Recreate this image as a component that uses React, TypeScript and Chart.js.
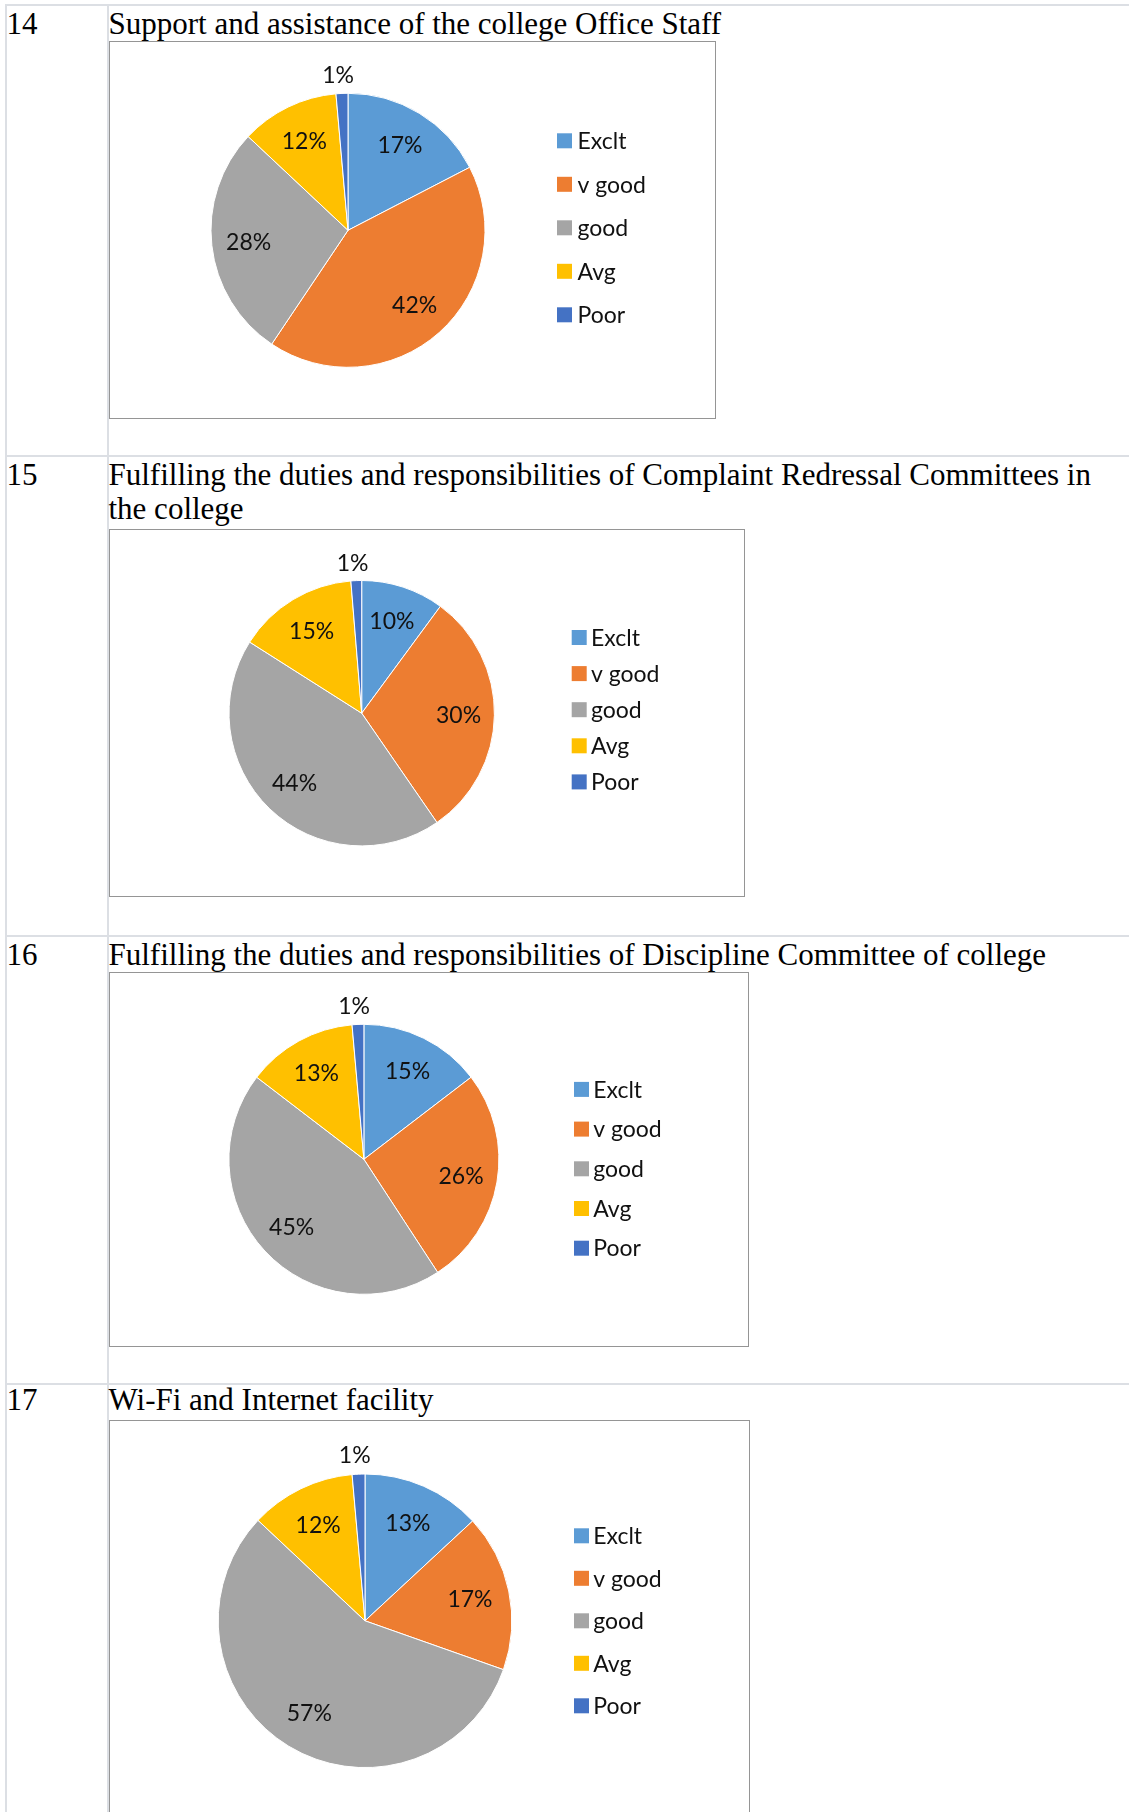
import React, { useEffect, useRef } from "react";
import { Chart, registerables } from "chart.js";

Chart.register(...registerables);

// ---------- data ----------
const CATEGORIES = ["Exclt", "v good", "good", "Avg", "Poor"];
const SLICE_COLORS = ["#5B9BD5", "#ED7D31", "#A5A5A5", "#FFC000", "#4472C4"];

const ROW_NUMBERS = ["14", "15", "16", "17"];
const TITLE_14 = ["Support and assistance of the college Office Staff"];
const TITLE_15 = [
  "Fulfilling the duties and responsibilities of Complaint Redressal Committees in",
  "the college",
];
const TITLE_16 = ["Fulfilling the duties and responsibilities of Discipline Committee of college"];
const TITLE_17 = ["Wi-Fi and Internet facility"];

// shares (%); labels show rounded percentages
const VALUES_14 = [17.4, 42.0, 27.6, 11.6, 1.4];
const VALUES_15 = [10.1, 30.3, 43.6, 14.7, 1.3];
const VALUES_16 = [14.6, 26.2, 44.6, 13.2, 1.4];
const VALUES_17 = [13.1, 17.3, 56.6, 11.6, 1.4];

const TITLES = [TITLE_14, TITLE_15, TITLE_16, TITLE_17];
const VALUES = [VALUES_14, VALUES_15, VALUES_16, VALUES_17];

// ---------- layout (page pixels) ----------
const LAYOUT = [
  { rowLine: 4, baseline: 34.3, box: { l: 109, t: 41, w: 607, h: 378 }, pie: { cx: 348, cy: 230.3, r: 137 }, legend: { sx: 557, tx: 577.5, y0: 140.8, step: 43.5 } },
  { rowLine: 455, baseline: 485.7, box: { l: 109, t: 529, w: 636, h: 368 }, pie: { cx: 361.7, cy: 713.2, r: 132.7 }, legend: { sx: 571.7, tx: 591, y0: 637.5, step: 36.1 } },
  { rowLine: 935, baseline: 965.7, box: { l: 109, t: 972, w: 640, h: 375 }, pie: { cx: 363.9, cy: 1159.3, r: 135 }, legend: { sx: 574, tx: 593.2, y0: 1089.4, step: 39.7 } },
  { rowLine: 1382.5, baseline: 1410.7, box: { l: 109, t: 1420, w: 641, h: 400 }, pie: { cx: 365, cy: 1620.8, r: 146.8 }, legend: { sx: 574, tx: 593.2, y0: 1535.8, step: 42.5 } },
];

const GRID = "#dcdfe4";
const TITLE_FONT = 31;
const TITLE_LINE = 34.3;
const LABEL_FONT = 23;
const LABEL_FAMILY = "Lato, 'Open Sans', sans-serif";
const CAP_H = LABEL_FONT * 0.717;

const pieTextPlugin = {
  id: "pieText",
  afterDatasetsDraw(chart: any, _args: any, opts: any) {
    const ctx = chart.ctx as CanvasRenderingContext2D;
    const meta = chart.getDatasetMeta(0);
    const ds = chart.data.datasets[0];
    const vals = ds.data as number[];
    const total = vals.reduce((a, b) => a + b, 0);
    ctx.save();
    ctx.font = `${LABEL_FONT}px ${LABEL_FAMILY}`;
    ctx.textBaseline = "alphabetic";
    ctx.fillStyle = "#111";
    ctx.textAlign = "center";
    meta.data.forEach((arc: any, i: number) => {
      const p = arc.getProps(["x", "y", "startAngle", "endAngle", "outerRadius"], true);
      const mid = (p.startAngle + p.endAngle) / 2;
      const pct = Math.round((vals[i] / total) * 100);
      const outside = pct < 3;
      const rr = outside ? p.outerRadius * 1.135 : p.outerRadius * 0.73;
      const x = p.x + Math.cos(mid) * rr - (outside ? 3 : 0);
      const y = p.y + Math.sin(mid) * rr;
      ctx.fillText(pct + "%", x, y + CAP_H / 2);
    });
    const lg = opts.legend;
    (chart.data.labels as string[]).forEach((lab, i) => {
      const cy = lg.y0 + i * lg.step;
      ctx.fillStyle = ds.backgroundColor[i];
      ctx.fillRect(lg.sx, cy - 7.5, 15, 15);
      ctx.fillStyle = "#111";
      ctx.textAlign = "left";
      ctx.fillText(lab, lg.tx, cy + CAP_H / 2);
    });
    ctx.restore();
  },
};

function PieChartBox({ index }: { index: number }) {
  const ref = useRef<HTMLCanvasElement>(null);
  const L = LAYOUT[index];
  const values = VALUES[index];
  useEffect(() => {
    const { box, pie, legend } = L;
    const r = pie.r + 0.5;
    const chart = new Chart(ref.current as HTMLCanvasElement, {
      type: "pie",
      data: {
        labels: CATEGORIES,
        datasets: [
          {
            data: values,
            backgroundColor: SLICE_COLORS,
            borderColor: "#ffffff",
            borderWidth: 1,
          },
        ],
      },
      options: {
        responsive: false,
        animation: false,
        devicePixelRatio: 1,
        layout: {
          padding: {
            left: pie.cx - r - box.l,
            top: pie.cy - r - box.t,
            right: box.l + box.w - (pie.cx + r),
            bottom: box.t + box.h - (pie.cy + r),
          },
        },
        plugins: {
          legend: { display: false },
          tooltip: { enabled: false },
          pieText: {
            legend: {
              sx: legend.sx - box.l,
              tx: legend.tx - box.l,
              y0: legend.y0 - box.t,
              step: legend.step,
            },
          },
        } as any,
      },
      plugins: [pieTextPlugin],
    });
    return () => chart.destroy();
  }, []);
  const { box } = L;
  return (
    <>
      <div
        style={{
          position: "absolute",
          left: box.l,
          top: box.t,
          width: box.w,
          height: box.h,
          boxSizing: "border-box",
          border: "1px solid #959595",
          background: "#fff",
        }}
      />
      <canvas
        ref={ref}
        width={box.w}
        height={box.h}
        style={{ position: "absolute", left: box.l, top: box.t, width: box.w, height: box.h }}
      />
    </>
  );
}

function Row({ index }: { index: number }) {
  const L = LAYOUT[index];
  const top = L.baseline - (TITLE_LINE - TITLE_FONT * 1.107) / 2 - TITLE_FONT * 0.891;
  const textStyle: React.CSSProperties = {
    position: "absolute",
    top,
    fontFamily: "'Liberation Serif', 'Times New Roman', serif",
    fontSize: TITLE_FONT,
    lineHeight: `${TITLE_LINE}px`,
    color: "#000",
    whiteSpace: "nowrap",
  };
  return (
    <>
      {index > 0 && (
        <div style={{ position: "absolute", left: 5, top: L.rowLine, width: 1124, height: 2, background: GRID }} />
      )}
      <div style={{ ...textStyle, left: 6.6 }}>{ROW_NUMBERS[index]}</div>
      <div style={{ ...textStyle, left: 108.5 }}>
        {TITLES[index].map((t, i) => (
          <div key={i}>{t}</div>
        ))}
      </div>
      <PieChartBox index={index} />
    </>
  );
}

export default function App() {
  return (
    <div
      style={{
        position: "absolute",
        left: 0,
        top: 0,
        width: 1129,
        height: 1812,
        overflow: "hidden",
        background: "#fff",
      }}
    >
      <div style={{ position: "absolute", left: 5, top: 4, width: 1124, height: 2, background: GRID }} />
      <div style={{ position: "absolute", left: 5, top: 4, width: 2, height: 1808, background: GRID }} />
      <div style={{ position: "absolute", left: 107, top: 4, width: 2, height: 1808, background: GRID }} />
      {LAYOUT.map((_, i) => (
        <Row key={i} index={i} />
      ))}
    </div>
  );
}
